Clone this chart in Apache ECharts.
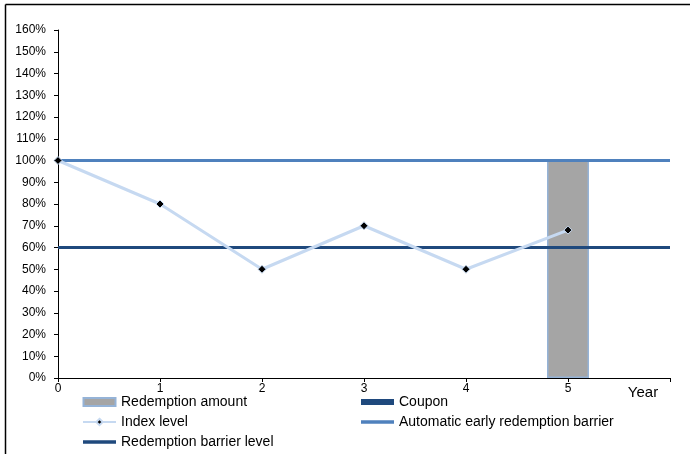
<!DOCTYPE html>
<html><head><meta charset="utf-8">
<script src="https://cdn.jsdelivr.net/npm/echarts@6/dist/echarts.min.js"></script>
<style>html,body{margin:0;padding:0;background:#fff}#c{width:690px;height:454px}</style>
</head><body><div id="c"></div>
<script>
const years = [0, 1, 2, 3, 4, 5];
const indexLevel = [100, 80, 50, 70, 50, 68];
const redemptionYear = 5;
const redemptionAmount = 100;
const earlyBarrier = 100;
const redemptionBarrier = 60;
const xTickLabels = ['0', '1', '2', '3', '4', '5', 'Year'];

const FONT = '"Liberation Sans", Arial, sans-serif';
const RECT_ICON = 'path://M0,0H32V8H0Z';
const chart = echarts.init(document.getElementById('c'));
const legendText = { fontSize: 14, color: '#000', fontFamily: FONT, lineHeight: 14 };
chart.setOption({
  animation: false,
  backgroundColor: '#fff',
  textStyle: { fontFamily: FONT },
  graphic: [
    { type: 'line', shape: { x1: 5.5, y1: 4.5, x2: 690, y2: 4.5 }, style: { stroke: '#000', lineWidth: 1.5 } },
    { type: 'line', shape: { x1: 5.5, y1: 4.5, x2: 5.5, y2: 454 }, style: { stroke: '#000', lineWidth: 1.5 } }
  ],
  grid: { left: 58, right: 20, top: 30, bottom: 76, containLabel: false },
  legend: [
    {
      orient: 'vertical', left: 82, top: 395, padding: 0, itemWidth: 33, itemHeight: 8, itemGap: 6,
      textStyle: legendText,
      data: [
        { name: 'Redemption amount', icon: RECT_ICON },
        { name: 'Index level' },
        { name: 'Redemption barrier level', icon: 'path://M0,2.2H32V5.8H0Z' }
      ]
    },
    {
      orient: 'vertical', left: 361, top: 395, padding: 0, itemWidth: 33, itemHeight: 8, itemGap: 6,
      textStyle: legendText,
      data: [
        { name: 'Coupon', icon: 'path://M0,1H32V7H0Z' },
        { name: 'Automatic early redemption barrier', icon: 'path://M0,2.2H32V5.8H0Z' }
      ]
    }
  ],
  xAxis: {
    type: 'value', min: 0, max: 6, interval: 1,
    splitLine: { show: false },
    axisLine: { lineStyle: { color: '#000', width: 1 } },
    axisTick: { show: true, length: 4, inside: false, lineStyle: { color: '#000' } },
    axisLabel: {
      color: '#000', fontSize: 12, margin: 5, fontFamily: FONT,
      formatter: function (v) { const s = xTickLabels[v]; return v === 6 ? '{y|' + s + '}' : s; },
      rich: { y: { fontSize: 15, color: '#000', fontFamily: FONT, padding: [2, 54, 0, 0] } }
    }
  },
  yAxis: {
    type: 'value', min: 0, max: 160, interval: 10,
    splitLine: { show: false },
    axisLine: { show: true, lineStyle: { color: '#000', width: 1 } },
    axisTick: { show: true, length: 4, lineStyle: { color: '#000' } },
    axisLabel: { color: '#000', fontSize: 12, margin: 12, fontFamily: FONT, formatter: '{value}%' }
  },
  series: [
    {
      name: 'Redemption amount', type: 'bar', barWidth: 42, barGap: '-100%',
      data: [[redemptionYear, redemptionAmount]],
      itemStyle: { color: '#a5a5a5', borderColor: '#95b3d7', borderWidth: 1.5 },
      z: 1
    },
    {
      name: 'Coupon', type: 'bar', barWidth: 42, barGap: '-100%', data: [],
      itemStyle: { color: '#1f497d' }
    },
    {
      name: 'Automatic early redemption barrier', type: 'line', symbol: 'none',
      data: [[0, earlyBarrier], [6, earlyBarrier]],
      lineStyle: { color: '#4f81bd', width: 3 }, itemStyle: { color: '#4f81bd' }, z: 3
    },
    {
      name: 'Redemption barrier level', type: 'line', symbol: 'none',
      data: [[0, redemptionBarrier], [6, redemptionBarrier]],
      lineStyle: { color: '#1f497d', width: 3 }, itemStyle: { color: '#1f497d' }, z: 3
    },
    {
      name: 'Index level', type: 'line', symbol: 'diamond', symbolSize: 8,
      data: years.map((y, i) => [y, indexLevel[i]]),
      lineStyle: { color: '#c6d9f1', width: 3 },
      itemStyle: { color: '#000', borderColor: '#c6d9f1', borderWidth: 1 },
      z: 4
    }
  ]
});
</script></body></html>
